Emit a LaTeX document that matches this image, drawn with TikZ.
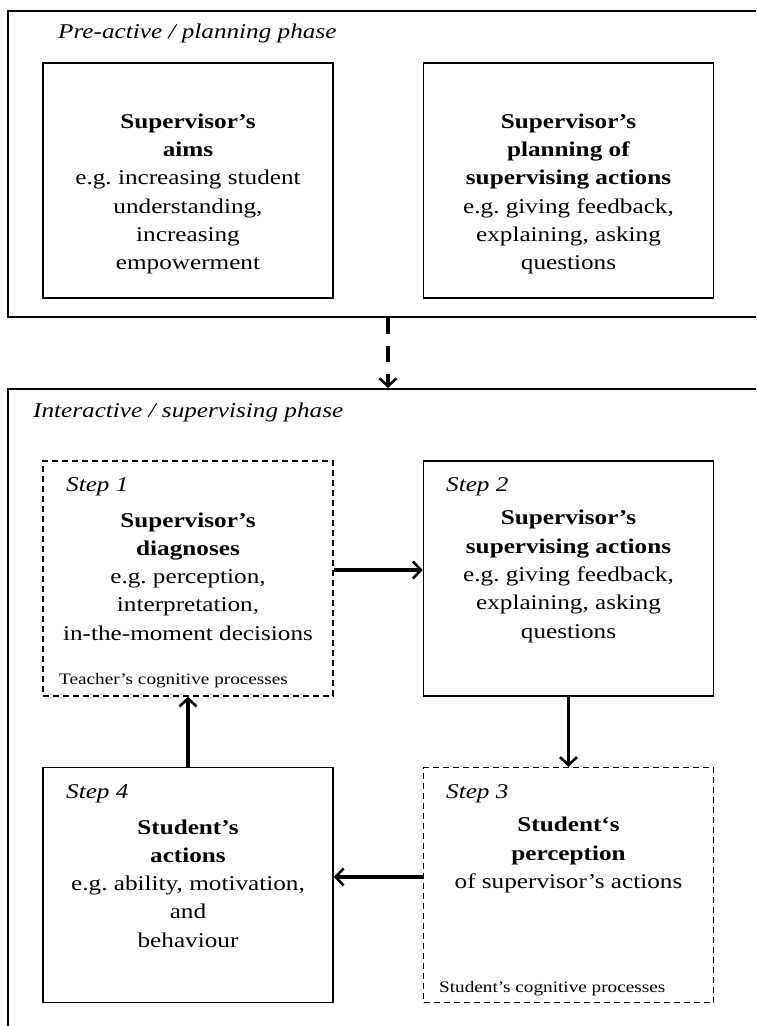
\documentclass[tikz,border=0pt]{standalone}
\usepackage{fontspec}
\setmainfont{Liberation Serif}[FakeStretch=1.2]
\usetikzlibrary{arrows.meta}
\frenchspacing

\begin{document}
\begin{tikzpicture}[x=1pt,y=-1pt]
\tikzstyle{phase}=[draw,line width=1.5pt,anchor=north west,inner sep=0pt,minimum width=800pt]
\tikzstyle{stepbox}=[draw,line width=1.6pt,minimum width=290pt,minimum height=235pt,inner sep=0pt]
\tikzstyle{dashbox}=[stepbox,line width=1.3pt,dash pattern=on 6pt off 4pt]
\tikzstyle{body}=[align=center,font=\fontsize{21}{28.3}\selectfont,inner sep=0pt]
\tikzstyle{steplabel}=[anchor=base west,font=\fontsize{21}{24}\selectfont\itshape,inner sep=0pt]
\tikzstyle{phasetitle}=[anchor=base west,font=\fontsize{21}{24}\selectfont\itshape,inner sep=0pt]
\tikzstyle{note}=[anchor=base west,font=\fontsize{16}{18}\selectfont,inner sep=0pt]
\tikzstyle{flow}=[line width=3.4pt,-{Straight Barb[length=8pt,width=17pt,line width=2.6pt]}]
\useasboundingbox (0,0) rectangle (756,1026);
\clip (0,0) rectangle (756,1026);
% phases
\node[phase,minimum height=306pt] (pre) at (7,10) {};
\node[phase,minimum height=700pt] (inter) at (7,388) {};
\node[phasetitle] (pretitle) at (58,38) {Pre-active / planning phase};
\node[phasetitle] (intertitle) at (33,417) {Interactive / supervising phase};
% planning boxes
\node[stepbox] (aims) at (188,180.5) {};
\node[stepbox] (plan) at (568.5,180.5) {};
\node[body] (aimstext) at (188,194) {\textbf{Supervisor’s}\\\textbf{aims}\\e.g. increasing student\\understanding,\\increasing\\empowerment};
\node[body] (plantext) at (568.5,194) {\textbf{Supervisor’s}\\\textbf{planning of}\\\textbf{supervising actions}\\e.g. giving feedback,\\explaining, asking\\questions};
% the four steps
\node[dashbox] (step1) at (188,578.5) {};
\node[stepbox] (step2) at (568.5,578.5) {};
\node[dashbox] (step3) at (568.5,885) {};
\node[stepbox] (step4) at (188,885) {};
\node[steplabel] (s1) at (66,491) {Step 1};
\node[steplabel] (s2) at (446,491) {Step 2};
\node[steplabel] (s3) at (446,798) {Step 3};
\node[steplabel] (s4) at (66,798) {Step 4};
\node[body] (diag) at (188,576.5) {\textbf{Supervisor’s}\\\textbf{diagnoses}\\e.g. perception,\\interpretation,\\in-the-moment decisions};
\node[body] (acts) at (568.5,576.5) {\textbf{Supervisor’s}\\\textbf{supervising actions}\\e.g. giving feedback,\\explaining, asking\\questions};
\node[body] (perc) at (568.5,855) {\textbf{Student‘s}\\\textbf{perception}\\of supervisor’s actions};
\node[body] (stud) at (188,883.5) {\textbf{Student’s}\\\textbf{actions}\\e.g. ability, motivation,\\and\\behaviour};
\node[note] (teach) at (59,684) {Teacher’s cognitive processes};
\node[note] (studc) at (439,992) {Student’s cognitive processes};
% arrows
\draw[flow,dash pattern=on 16pt off 12pt] ([xshift=381pt]pre.south west) -- ([xshift=381pt]inter.north west);
\draw[flow] ([yshift=8.5pt]step1.east) -- ([yshift=8.5pt]step2.west);
\draw[flow] (step2.south) -- (step3.north);
\draw[flow] ([yshift=8pt]step3.west) -- ([yshift=8pt]step4.east);
\draw[flow] (step4.north) -- (step1.south);
\end{tikzpicture}
\end{document}
